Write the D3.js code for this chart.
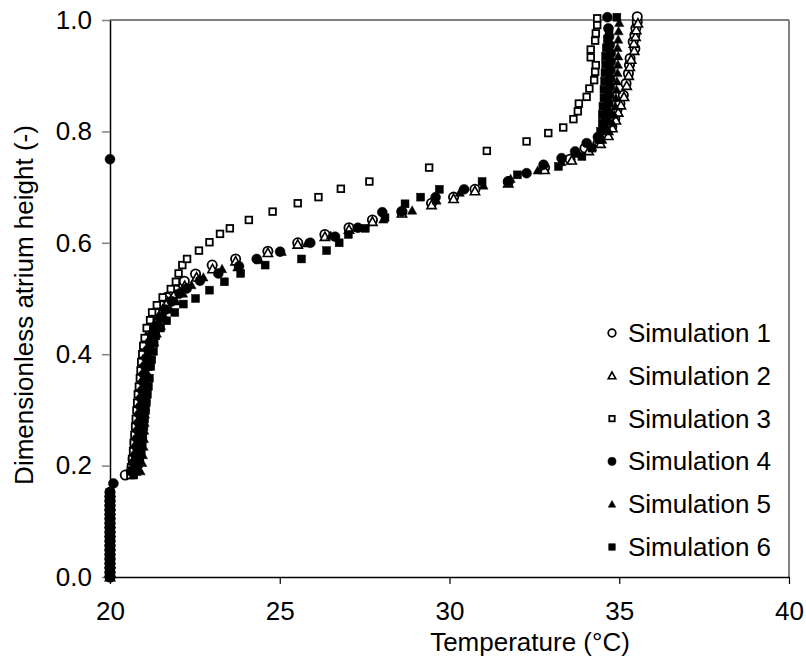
<!DOCTYPE html>
<html>
<head>
<meta charset="utf-8">
<script src="https://cdn.jsdelivr.net/npm/d3@7"></script>
<style>
  body, html { margin:0; padding:0; background:#fff; overflow:hidden; }
  svg { display:block; font-family: "Liberation Sans", Arial, sans-serif; }
</style>
</head>
<body>
<svg id="chart" width="806" height="657"></svg>
<script>
// every series sits on 20 C near the floor
var floorH = [0,0.008,0.016,0.024,0.032,0.040,0.048,0.056,0.064,0.072,0.080,0.088,0.096,0.104,0.112,0.120,0.128,0.136,0.144,0.152];

var sim1 = [[20.45,0.183],[20.65,0.197],[20.68,0.212],[20.72,0.226],[20.74,0.241],[20.77,0.255],[20.79,0.270],[20.81,0.284],[20.83,0.299],[20.86,0.313],[20.88,0.328],[20.90,0.342],[20.93,0.357],[20.96,0.371],[20.98,0.386],[21.02,0.400],[21.06,0.415],[21.10,0.429],[21.17,0.444],[21.27,0.458],[21.38,0.473],[21.50,0.487],[21.67,0.502],[21.94,0.515],[22.19,0.531],[22.52,0.544],[23.01,0.560],[23.70,0.571],[24.65,0.585],[25.53,0.600],[26.33,0.615],[27.04,0.627],[27.73,0.641],[28.6,0.656],[29.47,0.671],[30.12,0.682],[30.75,0.696],[31.73,0.710],[32.8,0.735],[33.55,0.750],[33.99,0.770],[34.38,0.780],[34.61,0.797],[34.78,0.808],[34.87,0.823],[34.93,0.838],[35.02,0.850],[35.12,0.865],[35.20,0.886],[35.27,0.904],[35.30,0.919],[35.32,0.931],[35.46,0.949],[35.41,0.961],[35.46,0.973],[35.49,0.985],[35.53,0.997],[35.53,1.006]];

var sim2 = [[20.75,0.190],[20.80,0.204],[20.83,0.219],[20.85,0.233],[20.87,0.248],[20.89,0.262],[20.91,0.277],[20.93,0.291],[20.95,0.306],[20.97,0.320],[20.99,0.335],[21.01,0.349],[21.03,0.364],[21.06,0.378],[21.09,0.393],[21.13,0.407],[21.18,0.422],[21.25,0.436],[21.33,0.451],[21.42,0.465],[21.55,0.480],[21.70,0.494],[21.90,0.508],[22.2,0.523],[22.55,0.538],[23.02,0.553],[23.70,0.567],[24.65,0.582],[25.53,0.597],[26.33,0.611],[27.04,0.624],[27.73,0.638],[28.6,0.653],[29.47,0.668],[30.12,0.679],[30.75,0.693],[31.73,0.707],[32.8,0.731],[33.6,0.748],[34.1,0.765],[34.45,0.778],[34.68,0.792],[34.8,0.806],[34.9,0.820],[34.97,0.834],[35.05,0.847],[35.14,0.862],[35.22,0.882],[35.28,0.900],[35.31,0.916],[35.35,0.929],[35.44,0.945],[35.43,0.958],[35.48,0.970],[35.5,0.982],[35.55,0.994]];

var sim3 = [[20.6,0.183],[20.62,0.197],[20.65,0.212],[20.68,0.226],[20.7,0.241],[20.72,0.255],[20.74,0.270],[20.76,0.284],[20.78,0.299],[20.8,0.313],[20.82,0.328],[20.85,0.342],[20.88,0.357],[20.9,0.371],[20.92,0.386],[20.95,0.400],[20.98,0.415],[21.02,0.429],[21.08,0.447],[21.18,0.461],[21.24,0.475],[21.38,0.488],[21.55,0.502],[21.79,0.517],[21.94,0.530],[22.02,0.545],[22.13,0.560],[22.27,0.571],[22.62,0.586],[22.93,0.601],[23.24,0.616],[23.53,0.626],[24.09,0.641],[24.79,0.656],[25.53,0.671],[26.14,0.682],[26.80,0.697],[27.64,0.710],[29.4,0.735],[31.1,0.765],[32.27,0.782],[32.91,0.797],[33.35,0.807],[33.65,0.822],[33.78,0.836],[33.81,0.850],[34.04,0.862],[34.12,0.877],[34.26,0.892],[34.29,0.907],[34.31,0.919],[34.16,0.933],[34.16,0.947],[34.29,0.963],[34.31,0.976],[34.35,0.991],[34.35,1.003]];

var sim4 = [[20.1,0.168],[20.62,0.190],[20.7,0.205],[20.75,0.219],[20.78,0.234],[20.8,0.248],[20.83,0.263],[20.85,0.277],[20.87,0.292],[20.9,0.306],[20.92,0.321],[20.95,0.335],[20.98,0.350],[21.0,0.364],[21.03,0.379],[21.07,0.393],[21.12,0.408],[21.18,0.422],[21.25,0.437],[21.35,0.451],[21.47,0.466],[21.62,0.480],[21.82,0.495],[22.05,0.509],[22.26,0.518],[22.65,0.532],[23.19,0.545],[23.8,0.558],[24.32,0.571],[25.01,0.584],[25.9,0.600],[26.63,0.611],[27.3,0.627],[28.02,0.655],[28.59,0.656],[29.59,0.682],[30.43,0.696],[31.73,0.710],[32.27,0.725],[32.77,0.740],[33.3,0.752],[33.70,0.764],[34.04,0.779],[34.37,0.790],[34.55,0.805],[34.62,0.820],[34.65,0.835],[34.68,0.850],[34.7,0.865],[34.72,0.880],[34.73,0.895],[34.74,0.910],[34.75,0.925],[34.75,0.940],[34.72,0.955],[34.7,0.970],[34.68,0.985],[34.65,1.005],[20.0,0.750]];

var sim5 = [[20.9,0.190],[20.95,0.205],[20.97,0.219],[20.99,0.234],[21.0,0.248],[21.01,0.263],[21.02,0.277],[21.03,0.292],[21.04,0.306],[21.06,0.321],[21.08,0.335],[21.1,0.350],[21.12,0.364],[21.15,0.379],[21.19,0.393],[21.24,0.408],[21.3,0.422],[21.38,0.437],[21.5,0.451],[21.62,0.466],[21.78,0.480],[21.95,0.495],[22.15,0.509],[22.4,0.524],[22.75,0.538],[23.3,0.553],[23.75,0.556],[24.4,0.569],[25.06,0.584],[25.79,0.599],[26.5,0.613],[27.3,0.627],[28.05,0.642],[28.9,0.658],[29.62,0.676],[30.3,0.690],[31.0,0.703],[31.8,0.715],[32.6,0.730],[33.3,0.745],[33.8,0.760],[34.2,0.772],[34.5,0.785],[34.7,0.800],[34.8,0.815],[34.85,0.830],[34.88,0.845],[34.9,0.860],[34.92,0.875],[34.93,0.890],[34.95,0.905],[34.96,0.920],[34.97,0.935],[34.95,0.950],[34.97,0.965],[34.98,0.980],[35.0,0.995]];

var sim6 = [[20.7,0.183],[20.8,0.197],[20.88,0.212],[20.92,0.226],[20.95,0.241],[20.97,0.255],[21.0,0.270],[21.02,0.284],[21.05,0.299],[21.07,0.313],[21.1,0.328],[21.13,0.342],[21.16,0.357],[21.2,0.378],[21.23,0.390],[21.28,0.405],[21.30,0.420],[21.35,0.433],[21.49,0.447],[21.67,0.460],[21.91,0.475],[22.16,0.490],[22.52,0.500],[22.93,0.515],[23.37,0.530],[23.85,0.545],[24.57,0.560],[25.64,0.571],[26.38,0.586],[26.75,0.600],[27.02,0.615],[27.52,0.626],[28.1,0.645],[28.69,0.670],[29.15,0.682],[29.70,0.696],[30.96,0.710],[32.0,0.722],[33.21,0.737],[33.9,0.755],[34.2,0.770],[34.4,0.785],[34.45,0.800],[34.5,0.815],[34.5,0.830],[34.52,0.845],[34.55,0.860],[34.55,0.875],[34.57,0.890],[34.58,0.905],[34.6,0.920],[34.6,0.935],[34.62,0.950],[34.65,0.965],[34.7,0.980],[34.93,1.005]];

var names = ["Simulation 1","Simulation 2","Simulation 3","Simulation 4","Simulation 5","Simulation 6"];
var shapes = ["circle","triangle","square","circle","triangle","square"];
var filled = [false,false,false,true,true,true];
var xTicks = [20,25,30,35,40];
var yTicks = [0,0.2,0.4,0.6,0.8,1.0];

var svg = d3.select("#chart");
var x = d3.scaleLinear().domain([20,40]).range([110,789]);
var y = d3.scaleLinear().domain([0,1]).range([577,20]);

// frame: top and right in grey
svg.append("line").attr("x1",110).attr("x2",789).attr("y1",20).attr("y2",20).attr("stroke","#808080").attr("stroke-width",2);
svg.append("line").attr("x1",789).attr("x2",789).attr("y1",20).attr("y2",577).attr("stroke","#808080").attr("stroke-width",2);

var yAxis = svg.append("g").attr("transform","translate(110,0)")
  .call(d3.axisLeft(y).tickValues(yTicks).tickFormat(d3.format(".1f")).tickSize(8).tickPadding(10).tickSizeOuter(0));
yAxis.select(".domain").attr("stroke","#000").attr("stroke-width",1.5);
yAxis.selectAll(".tick line").attr("stroke","#808080").attr("stroke-width",1.5);
yAxis.selectAll("text").attr("font-size",26).attr("fill","#000").attr("font-family","Liberation Sans, Arial, sans-serif");

var xAxis = svg.append("g").attr("transform","translate(0,577)")
  .call(d3.axisBottom(x).tickValues(xTicks).tickFormat(d3.format("d")).tickSize(7).tickPadding(18).tickSizeOuter(0));
xAxis.select(".domain").attr("stroke","#000").attr("stroke-width",1.5);
xAxis.selectAll(".tick line").attr("stroke","#000").attr("stroke-width",1.2);
xAxis.selectAll("text").attr("font-size",26).attr("fill","#000").attr("font-family","Liberation Sans, Arial, sans-serif");

svg.append("text").attr("x",530).attr("y",651).attr("text-anchor","middle")
  .attr("font-size",26).text("Temperature (°C)");
svg.append("text").attr("transform","translate(33,305) rotate(-90)").attr("text-anchor","middle")
  .attr("font-size",26).text("Dimensionless atrium height (-)");

function marker(g, shape, isFilled, cx, cy, s) {
  var fill = isFilled ? "#000" : "#fff";
  if (shape === "circle") {
    g.append("circle").attr("cx",cx).attr("cy",cy).attr("r", isFilled ? s*0.45 : s*0.42)
      .attr("fill",fill).attr("stroke","#000").attr("stroke-width", isFilled ? 0.5 : 1.8);
  } else if (shape === "square") {
    var a = isFilled ? s*0.72 : s*0.6;
    g.append("rect").attr("x",cx-a/2).attr("y",cy-a/2).attr("width",a).attr("height",a)
      .attr("fill",fill).attr("stroke","#000").attr("stroke-width", isFilled ? 0.5 : 1.8);
  } else {
    var h = s*0.42;
    g.append("path").attr("d","M"+cx+","+(cy-h)+"L"+(cx+h)+","+(cy+h*0.8)+"L"+(cx-h)+","+(cy+h*0.8)+"Z")
      .attr("fill",fill).attr("stroke","#000").attr("stroke-width", isFilled ? 0.5 : 1.6);
  }
}

var allSims = [sim1,sim2,sim3,sim4,sim5,sim6];
allSims.forEach(function(sim, i) {
  var pts = floorH.map(function(h){ return [20.0, h]; }).concat(sim);
  var g = svg.append("g").attr("class","sim"+(i+1));
  pts.forEach(function(p) {
    marker(g, shapes[i], filled[i], x(p[0]), y(p[1]), 11);
  });
});

// legend
var lg = svg.append("g");
names.forEach(function(n, i) {
  var cy = 333 + i*42.8;
  marker(lg, shapes[i], filled[i], 612, cy, 9);
  lg.append("text").attr("x",628).attr("y",cy+9).attr("font-size",26).text(n);
});
</script>
</body>
</html>
